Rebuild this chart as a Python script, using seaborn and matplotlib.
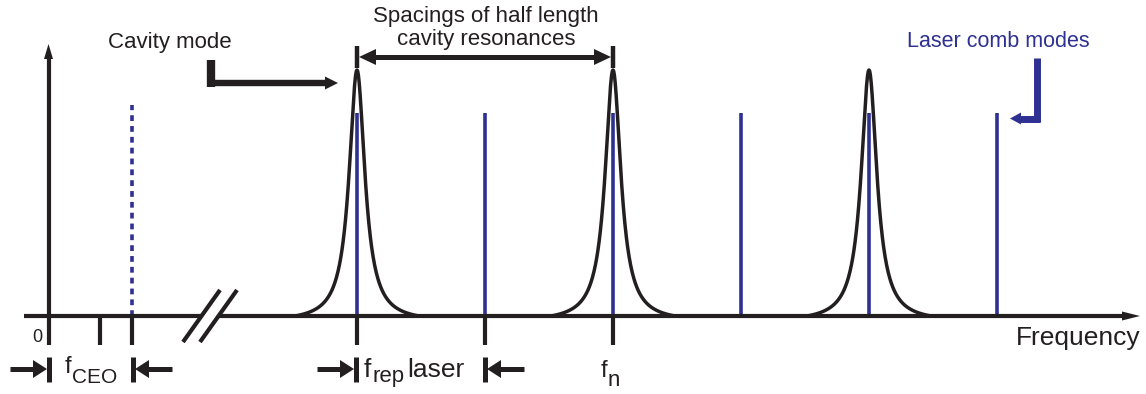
import numpy as np
import pandas as pd
import matplotlib
matplotlib.use("Agg")
import matplotlib.pyplot as plt
import seaborn as sns

# ---------------- data (horizontal positions in picture units) ----------------
comb_modes = [357, 485, 613, 741, 869, 997]        # laser comb lines
f_ceo_line = 132                                   # dotted offset comb line
cavity_resonances = [357, 613, 869]                # half-length cavity modes
comb_amplitude = 203
cavity_amplitude = 246
cavity_halfwidth = 9.5
cavity_extent = 62
axis_ticks = [48, 100, 132, 357, 485, 613]
tick_zero_label = "0"

BLACK = "#231f20"
BLUE = "#2e3192"

sns.set_style("white")
plt.rcParams["font.family"] = ["Liberation Sans", "DejaVu Sans"]

W, H = 1146, 394
fig = plt.figure(figsize=(W / 100, H / 100), dpi=100)
ax = fig.add_axes([0, 0, 1, 1])
ax.set_xlim(0, W)
ax.set_ylim(0, H)
ax.axis("off")


def Y(py):
    return H - py


BASE = 316

# ---------------- cavity resonances (Lorentzian-like) ----------------
rows = []
for c in cavity_resonances:
    dx = np.linspace(-cavity_extent, cavity_extent, 401)
    L = 1 / (1 + (dx / cavity_halfwidth) ** 2)
    Lend = 1 / (1 + (cavity_extent / cavity_halfwidth) ** 2)
    amp = cavity_amplitude * (L - Lend) / (1 - Lend)
    for a, b in zip(dx, amp):
        rows.append({"x": c + a, "y": Y(BASE) + b, "peak": c})
df = pd.DataFrame(rows)
sns.lineplot(data=df, x="x", y="y", units="peak", estimator=None,
             color=BLACK, lw=2.5, ax=ax, legend=False, sort=False)

# ---------------- comb lines ----------------
ax.vlines(comb_modes, Y(BASE), Y(BASE) + comb_amplitude, color=BLUE, lw=2.6, zorder=3)
ax.vlines([f_ceo_line], Y(BASE), Y(BASE) + comb_amplitude + 8, color=BLUE, lw=2.6,
          linestyles=(0, (1.6, 1.4)), zorder=3)


def seg(x0, y0, x1, y1, lw, color=BLACK, z=4):
    ax.plot([x0, x1], [Y(y0), Y(y1)], color=color, lw=lw,
            solid_capstyle="butt", zorder=z)


def head(tip_x, tip_y, dirx, diry, length, half, color=BLACK, z=5):
    # triangle pointing in direction (dirx, diry) in picture coords
    bx, by = tip_x - dirx * length, tip_y - diry * length
    px, py = -diry, dirx
    xs = [tip_x, bx + px * half, bx - px * half]
    ys = [Y(tip_y), Y(by + py * half), Y(by - py * half)]
    ax.fill(xs, ys, color=color, lw=0, zorder=z)


# ---------------- axes ----------------
seg(24, BASE, 202, BASE, 3.0)
seg(219, BASE, 1124, BASE, 3.0)
head(1140, BASE, 1, 0, 18, 4.5)
seg(48.5, 345, 48.5, 58, 3.0)
head(48.5, 44, 0, -1, 15, 4.5)
for t in axis_ticks[1:]:
    seg(t, BASE, t, 345, 3.0)
# axis break
seg(183, 342, 220, 290, 3.0)
seg(200, 342, 237, 290, 3.0)

ax.text(32, Y(342), tick_zero_label, fontsize=13, color=BLACK, va="baseline", ha="left")
ax.text(1141, Y(345), "Frequency", fontsize=19, color=BLACK, va="baseline", ha="right")

# ---------------- top annotations ----------------
ax.text(486, Y(22), "Spacings of half length", fontsize=16, color=BLACK,
        va="baseline", ha="center")
ax.text(486, Y(45), "cavity resonances", fontsize=16, color=BLACK,
        va="baseline", ha="center")
s0, s1 = cavity_resonances[0], cavity_resonances[1]
seg(s0, 46, s0, 68, 3.2)
seg(s1, 46, s1, 68, 3.2)
seg(s0 + 12, 57, s1 - 12, 57, 3.6)
head(s0 + 2, 57, -1, 0, 17, 8)
head(s1 - 2, 57, 1, 0, 17, 8)

ax.text(170, Y(48), "Cavity mode", fontsize=16, color=BLACK, va="baseline", ha="center")
seg(211, 60, 211, 87, 6.0)
seg(208, 83, 327, 83, 4.6)
head(338, 83, 1, 0, 13, 6.5)

ax.text(998, Y(47), "Laser comb modes", fontsize=15.5, color=BLUE, va="baseline", ha="center")
seg(1037, 58, 1037, 122, 5.0, color=BLUE)
seg(1040, 118.5, 1018, 118.5, 5.0, color=BLUE)
head(1010, 118.5, -1, 0, 11, 6, color=BLUE)

# ---------------- bottom brackets ----------------
YB = 369
def bracket(x_bar, side, x_tail):
    # side=+1: arrow comes from the left pointing right onto bar
    seg(x_bar, 357, x_bar, 382, 3.6)
    tip = x_bar - side * 2
    seg(x_tail, YB, tip - side * 10, YB, 3.6)
    head(tip, YB, side, 0, 14, 9)

bracket(49, 1, 10)
bracket(133, -1, 172)
bracket(356, 1, 317)
bracket(485, -1, 524)

ax.text(65, Y(373), "f", fontsize=17, color=BLACK, va="baseline", ha="left")
ax.text(72, Y(383), "CEO", fontsize=15, color=BLACK, va="baseline", ha="left")
ax.text(364, Y(377), "f", fontsize=19, color=BLACK, va="baseline", ha="left")
ax.text(372, Y(382), "rep", fontsize=16, color=BLACK, va="baseline", ha="left")
ax.text(407, Y(377), "laser", fontsize=19, color=BLACK, va="baseline", ha="left")
ax.text(601, Y(377), "f", fontsize=17, color=BLACK, va="baseline", ha="left")
ax.text(608, Y(386), "n", fontsize=16, color=BLACK, va="baseline", ha="left")

fig.savefig("out.png", dpi=100)
